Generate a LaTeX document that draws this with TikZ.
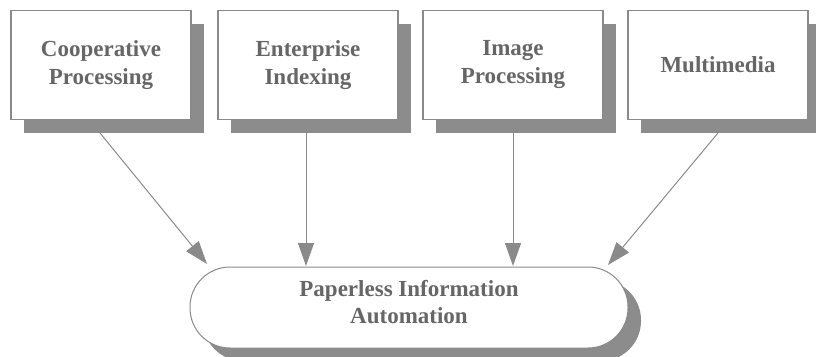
\documentclass[tikz,border=0pt]{standalone}
\usepackage{fontspec}
\setmainfont{Liberation Serif}
\usetikzlibrary{arrows.meta}
\definecolor{shadowgray}{HTML}{8C8C8C}
\definecolor{linegray}{HTML}{8A8A8A}
\definecolor{textgray}{HTML}{666666}
\begin{document}
\begin{tikzpicture}[x=1pt,y=-1pt,
  topbox/.style={draw=linegray, line width=1.2pt, fill=white, minimum width=180pt, minimum height=109pt, inner sep=0pt, align=center, font=\bfseries\fontsize{23}{28}\selectfont, text=textgray},
  boxshadow/.style={fill=shadowgray, draw=none, minimum width=180pt, minimum height=109pt, inner sep=0pt},
  pill/.style={draw=linegray, line width=1pt, fill=white, rounded corners=40pt, minimum width=438pt, minimum height=81pt, inner sep=0pt},
  pilltext/.style={align=center, font=\bfseries\fontsize{23}{27}\selectfont, text=textgray, inner sep=0pt},
  pillshadow/.style={fill=shadowgray, draw=none, rounded corners=40pt, minimum width=438pt, minimum height=81pt, inner sep=0pt},
  conn/.style={draw=linegray, line width=1pt, -{Triangle[length=23pt, width=16pt]}}
]
\useasboundingbox (0,0) rectangle (816,356);
% shadows
\node[boxshadow] (s1) at (114,78) {};
\node[boxshadow] (s2) at (321,78) {};
\node[boxshadow] (s3) at (526,78) {};
\node[boxshadow] (s4) at (731,78) {};
\node[pillshadow] (ps) at (422,320.5) {};
% boxes
\node[topbox] (b1) at (101,65) {Cooperative\\Processing};
\node[topbox] (b2) at (308,65) {Enterprise\\Indexing};
\node[topbox] (b3) at (513,65) {Image\\Processing};
\node[topbox] (b4) at (718,65) {Multimedia};
\node[pill] (p) at (409,307.5) {};
\node[pilltext] (pt) at (409,302) {Paperless Information\\Automation};
% connector endpoints
\coordinate (a1) at (100,133);
\coordinate (a2) at (306,133);
\coordinate (a3) at (513,133);
\coordinate (a4) at (718,133);
\coordinate (t1) at (207,264);
\coordinate (t2) at (306,266);
\coordinate (t3) at (513,266);
\coordinate (t4) at (608,265);
\draw[conn] (a1) -- (t1);
\draw[conn] (a2) -- (t2);
\draw[conn] (a3) -- (t3);
\draw[conn] (a4) -- (t4);
\end{tikzpicture}
\end{document}
